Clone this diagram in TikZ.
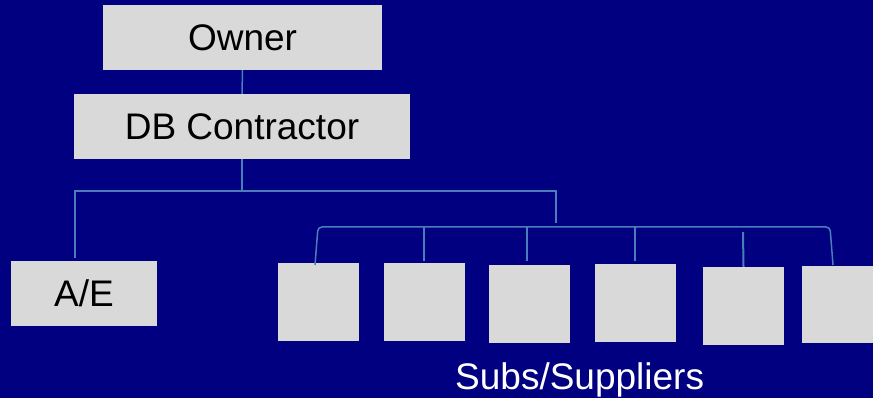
\documentclass[tikz,border=0pt]{standalone}
\usepackage{fontspec}
\setmainfont{Liberation Sans}
\definecolor{navy}{RGB}{0,0,128}
\definecolor{boxgray}{RGB}{217,217,217}
\definecolor{linkblue}{RGB}{74,126,187}
\begin{document}
\begin{tikzpicture}[x=1pt,y=-1pt,
  graybox/.style={fill=boxgray,draw=none,inner sep=0pt,
     font=\fontsize{37}{44}\selectfont,text=black},
  link/.style={draw=linkblue,line width=1.5pt}]
\useasboundingbox[fill=navy] (0,0) rectangle (873,398);
% top boxes
\node[graybox,minimum width=279,minimum height=65] (owner) at (242.5,37.5) {Owner};
\node[graybox,minimum width=336,minimum height=65] (db) at (242,126.5) {DB Contractor};
\node[graybox,minimum width=146,minimum height=65] (ae) at (84,293.5) {A/E};
% sub boxes
\node[graybox,minimum width=81,minimum height=78] (s1) at (318.5,302) {};
\node[graybox,minimum width=81,minimum height=78] (s2) at (424.5,302) {};
\node[graybox,minimum width=81,minimum height=78] (s3) at (529.5,304) {};
\node[graybox,minimum width=81,minimum height=78] (s4) at (635.5,303) {};
\node[graybox,minimum width=81,minimum height=78] (s5) at (743.5,306) {};
\node[graybox,minimum width=81,minimum height=77,anchor=north west] (s6) at (802,266) {};
\node[font=\fontsize{37}{44}\selectfont,text=white,anchor=base west,inner sep=0pt] (subs) at (455,389) {Subs/Suppliers};
% coordinates
\coordinate (bus1) at (242,191);
\coordinate (bus2) at (556,227);
% connectors
\draw[link] (owner.south) -- (db.north);
\draw[link] (db.south) -- (bus1);
\draw[link] (75,258) |- (bus1) -| (556,223);
\draw[link,rounded corners=4pt] (315,265) -- (318,227) -- (830,227) -- (833,265);
\draw[link] (424,227) -- (424,261);
\draw[link] (527,227) -- (527,261);
\draw[link] (635,227) -- (635,261);
\draw[link,line width=2pt] (743,232) -- (s5.north);
\end{tikzpicture}
\end{document}
